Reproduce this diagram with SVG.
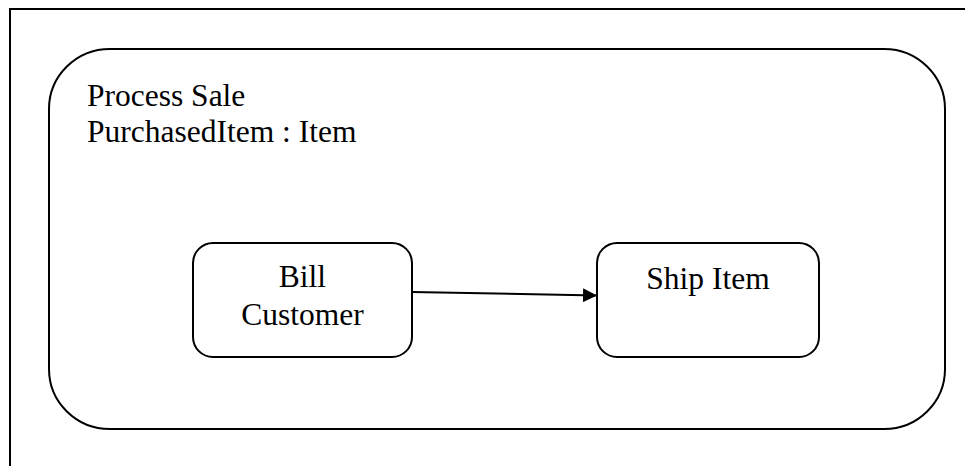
<svg xmlns="http://www.w3.org/2000/svg" width="965" height="466" viewBox="0 0 965 466">
  <style>
    .frame { fill: none; stroke: #000; stroke-width: 2; }
    .box { fill: #fff; stroke: #000; stroke-width: 2; }
    .label { font-family: "Liberation Serif", "Times New Roman", serif; font-size: 31.5px; fill: #000; }
    .mid { text-anchor: middle; }
    .conn { stroke: #000; stroke-width: 2; fill: none; }
  </style>
  <defs>
    <marker id="arrow" markerWidth="14" markerHeight="14" refX="14" refY="7" orient="auto" markerUnits="userSpaceOnUse">
      <path d="M0,0 L14,7 L0,14 Z" fill="#000"/>
    </marker>
  </defs>
  <rect width="965" height="466" fill="#fff"/>
  <!-- page frame -->
  <rect class="frame" x="10" y="9" width="962" height="470"/>

  <g id="process-sale">
    <rect class="box" x="49" y="49" width="896" height="380" rx="61" ry="60"/>
    <text class="label" x="87" y="106">Process Sale</text>
    <text class="label" x="87" y="142">PurchasedItem : Item</text>
  </g>

  <g id="bill-customer">
    <rect class="box" x="193" y="243" width="219" height="114" rx="20" ry="20"/>
    <text class="label mid" x="302.5" y="287">Bill</text>
    <text class="label mid" x="302.5" y="325">Customer</text>
  </g>

  <g id="ship-item">
    <rect class="box" x="597" y="243" width="222" height="114" rx="20" ry="20"/>
    <text class="label mid" x="708" y="289">Ship Item</text>
  </g>

  <g id="connectors">
    <line class="conn" x1="412" y1="292" x2="597" y2="295.5" marker-end="url(#arrow)"/>
  </g>
</svg>
